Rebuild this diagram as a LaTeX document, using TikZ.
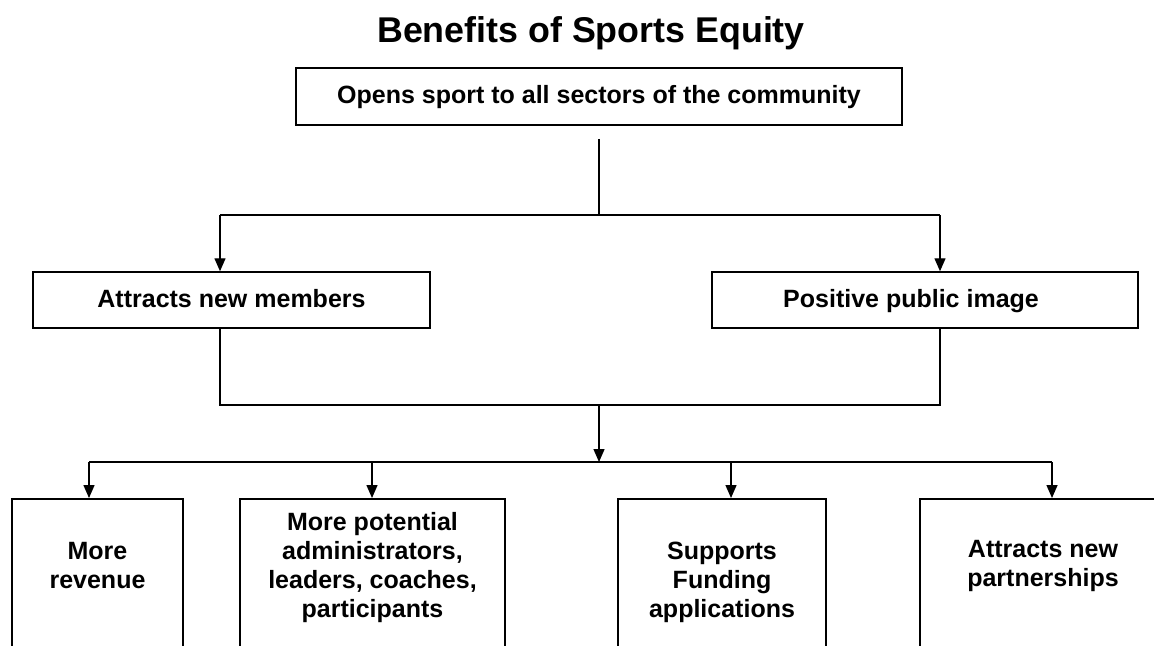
\documentclass[tikz,border=0pt]{standalone}
\usepackage{fontspec}
\setmainfont{Liberation Sans}
\usepackage{tikz}
\usetikzlibrary{arrows.meta, positioning, calc}
\newcommand{\boxtxt}[3][67pt]{\parbox[t][#1][c]{#2}{\centering #3}}

\tikzset{
  chartbox/.style={rectangle, draw=black, line width=0.75pt, inner sep=0pt,
                   font=\fontsize{12.5}{14.5}\selectfont\bfseries},
  highbox/.style={chartbox, text height=9.5pt, text depth=2.2pt},
  lowbox/.style={chartbox, anchor=north, text depth=90pt},
  flow/.style={draw=black, line width=0.7pt},
  flowarrow/.style={flow, -{Triangle[length=6.5pt, width=5.5pt]}}
}

\begin{document}
\begin{tikzpicture}[x=0.5pt, y=-0.5pt]
\useasboundingbox (0,0) rectangle (1154,645);
\clip (0,0) rectangle (1154,645);

% title
\node[font=\fontsize{17.9}{21}\selectfont\bfseries, anchor=base] (title) at (591,42) {Benefits of Sports Equity};

% upper boxes
\node[highbox, minimum width=303pt, minimum height=28.5pt] (open) at (599,96.5) {Opens sport to all sectors of the community};
\node[highbox, minimum width=198.5pt, minimum height=28pt] (members) at (231.5,300) {Attracts new members};
\node[highbox, minimum width=213pt, minimum height=28pt] (image) at (925,300) {Positive public image\hspace*{14pt}};

% lower boxes (run off the bottom edge)
\node[lowbox, minimum width=85.5pt] (revenue) at (97.5,498) {\boxtxt{85.5pt}{More\\revenue}};
\node[lowbox, minimum width=132.5pt] (people) at (372.5,498) {\boxtxt[69pt]{132.5pt}{More potential\\administrators,\\leaders, coaches,\\participants}};
\node[lowbox, minimum width=104pt] (funding) at (722,498) {\boxtxt[84pt]{104pt}{Supports\\Funding\\applications}};
\node[lowbox, minimum width=123pt] (partners) at (1043,498) {\boxtxt{123pt}{Attracts new\\partnerships}};

% top split
\coordinate (split) at (599,215);
\coordinate (splitL) at (220,215);
\coordinate (splitR) at (940,215);
\draw[flow] ([yshift=-6.5pt]open.south) -- (split);
\draw[flow] (splitL) -- (splitR);
\draw[flowarrow] (splitL) -- (splitL |- members.north);
\draw[flowarrow] (splitR) -- (splitR |- image.north);

% join
\coordinate (joinL) at (220,405);
\coordinate (joinR) at (940,405);
\coordinate (join) at (599,405);
\coordinate (fan) at (599,462);
\draw[flow] (joinL |- members.south) -- (joinL) -- (joinR) -- (joinR |- image.south);
\draw[flowarrow] (join) -- (fan);

% fan out
\coordinate (fanL) at (89,462);
\coordinate (fanR) at (1052,462);
\draw[flow] (fanL) -- (fanR);
\foreach \x/\b in {89/revenue, 372/people, 731/funding, 1052/partners}{
  \coordinate (tip) at (\x,462);
  \draw[flowarrow] (tip) -- (tip |- \b.north);
}
\end{tikzpicture}
\end{document}
